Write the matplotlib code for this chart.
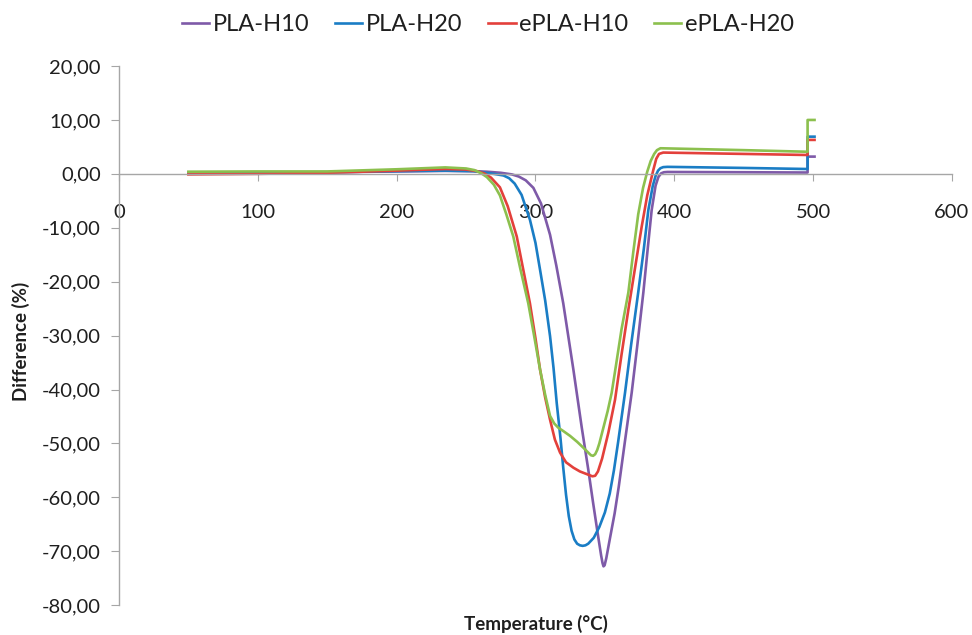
import matplotlib
matplotlib.use("Agg")
import matplotlib.pyplot as plt
from matplotlib.ticker import FuncFormatter

plt.rcParams["font.family"] = ["Lato", "DejaVu Sans"]

# PLA-H10
t_pla10 = [50, 100, 150, 200, 235, 255, 265, 275, 283, 288, 293, 298.5, 304,
           310.5, 315, 320, 327.3, 333.3, 338, 341.5, 345, 347.3, 348.3, 349,
           349.8, 351, 353.5, 357, 360, 364.5, 369.3, 373.5, 377.7, 381, 383.7,
           386.5, 388.5, 390.5, 392.5, 395, 450, 496, 496, 501]
d_pla10 = [0.15, 0.2, 0.3, 0.45, 0.55, 0.5, 0.4, 0.2, -0.1, -0.5, -1.2, -2.6,
           -5.5, -11.3, -17, -24, -36.3, -47, -54.8, -61, -67, -70.8, -72.2,
           -72.8, -72.6, -71.3, -67.8, -63, -58, -49.5, -40.6, -31.5, -22,
           -13.5, -6.7, -2.2, -0.6, 0.1, 0.3, 0.35, 0.3, 0.25, 3.2, 3.2]

# PLA-H20
t_pla20 = [50, 100, 150, 200, 235, 255, 262, 270, 277, 281, 285, 290, 296, 300,
           303.3, 307, 310.5, 313, 315.3, 318, 320, 322, 324, 326, 328, 330, 332,
           334, 336, 338, 342, 346, 350, 353.5, 356.5, 359.5, 364.5, 369, 374,
           378, 381.3, 384.5, 386.5, 388.3, 390, 392, 395, 450, 496, 496, 501]
d_pla20 = [0.2, 0.25, 0.3, 0.5, 0.6, 0.5, 0.3, 0.0, -0.3, -0.8, -1.8, -3.9,
           -8.5, -12.8, -17.8, -23.5, -30.1, -36, -42.5, -49, -54.5, -59.5,
           -63.5, -66.2, -67.8, -68.6, -68.9, -69, -68.9, -68.6, -67.5, -65.5,
           -62.8, -59.3, -55, -49.8, -40.6, -31.5, -22, -14, -6.7, -2.2, -0.4,
           0.6, 1.05, 1.25, 1.3, 1.1, 0.9, 6.9, 6.9]

# ePLA-H10
t_epla10 = [50, 100, 150, 200, 235, 250, 258, 263, 268, 274.4, 280, 286.5, 291,
            296, 300, 303.3, 307, 310.5, 314, 317.7, 322, 327.3, 332, 338, 341,
            343, 345, 348, 352.5, 357.3, 362, 366.9, 372, 376.5, 380.5, 384.9,
            387, 389, 392, 450, 496, 496, 501]
d_epla10 = [-0.1, 0.0, 0.2, 0.6, 0.9, 0.8, 0.5, 0.1, -0.7, -2.5, -6, -11.6,
            -17.5, -24, -30.5, -36.3, -41.5, -45.6, -49.3, -51.7, -53.5, -54.5,
            -55.2, -55.8, -56.1, -56.0, -55.2, -52.8, -48, -41.9, -33.5, -25.2,
            -17, -9.8, -4, 0.74, 2.8, 3.7, 3.95, 3.7, 3.5, 6.3, 6.3]

# ePLA-H20
t_epla20 = [50, 100, 150, 200, 235, 250, 256, 261, 265, 270, 274.4, 279, 284,
            289, 294.8, 299, 303.3, 307, 310.5, 313.5, 316.5, 320, 324.9, 330,
            334.5, 338, 340, 341.5, 343, 344.5, 346, 349, 352, 354.9, 358, 362,
            366.9, 370.5, 374, 377.5, 380.5, 383, 385.5, 387.5, 390, 450, 496,
            496, 501]
d_epla20 = [0.4, 0.45, 0.45, 0.85, 1.2, 1.0, 0.7, 0.1, -0.6, -2, -4, -7.5,
            -11.6, -17.5, -24, -30, -36.3, -41, -44.9, -46.3, -47.1, -47.7,
            -48.6, -49.7, -50.8, -51.7, -52.2, -52.3, -52.0, -51.2, -50, -47,
            -44, -40.6, -35.5, -28.8, -22, -14.4, -7.5, -2.6, 0.4, 2.4, 3.7,
            4.4, 4.75, 4.4, 4.1, 10.0, 10.0]

series = [
    ("PLA-H10", t_pla10, d_pla10, "#7E5AA8"),
    ("PLA-H20", t_pla20, d_pla20, "#1A7DC5"),
    ("ePLA-H10", t_epla10, d_epla10, "#E3403B"),
    ("ePLA-H20", t_epla20, d_epla20, "#8CC04E"),
]

x_ticks = [0, 100, 200, 300, 400, 500, 600]
y_ticks = [-80, -70, -60, -50, -40, -30, -20, -10, 0, 10, 20]

axis_grey = "#A6A6A6"
text_col = "#1F1F1F"

fig = plt.figure(figsize=(9.72, 6.35), dpi=100)
ax = fig.add_axes([0.1224, 0.047, 0.857, 0.849])

for name, t, d, col in series:
    ax.plot(t, d, color=col, lw=1.9, label=name, solid_joinstyle="round")

ax.set_xlim(0, 600)
ax.set_ylim(-80, 20)
ax.set_xticks(x_ticks)
ax.set_yticks(y_ticks)
ax.yaxis.set_major_formatter(FuncFormatter(lambda v, p: f"{v:.2f}".replace(".", ",")))

for s in ["top", "right"]:
    ax.spines[s].set_visible(False)
ax.spines["bottom"].set_position(("data", 0))
ax.spines["bottom"].set_color(axis_grey)
ax.spines["left"].set_color(axis_grey)
ax.spines["bottom"].set_linewidth(1.0)
ax.spines["left"].set_linewidth(1.0)

ax.tick_params(axis="y", direction="out", length=6, color=axis_grey,
               labelsize=14.5, labelcolor=text_col, pad=7)
ax.tick_params(axis="x", direction="out", length=5, color=axis_grey,
               labelsize=14.5, labelcolor=text_col, pad=17)

fig.text(0.022, 0.462, "Difference (%)", rotation=90, ha="center",
         va="center", fontsize=13.5, fontweight="bold", color=text_col)
fig.text(0.551, 0.018, "Temperature (°C)", ha="center", va="center",
         fontsize=13.5, fontweight="bold", color=text_col)

fig.legend(loc="center", bbox_to_anchor=(0.502, 0.961), ncol=4, frameon=False,
           fontsize=17, handlelength=1.15, handletextpad=0.15, columnspacing=1.1,
           labelcolor=text_col)

fig.savefig("out.png", dpi=100, facecolor="white")
